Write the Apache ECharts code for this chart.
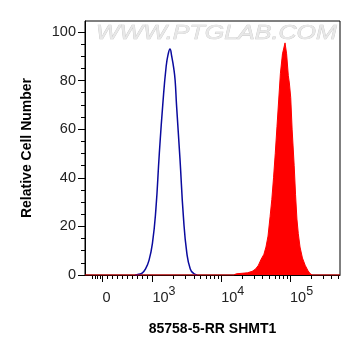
<!DOCTYPE html>
<html><head><meta charset="utf-8">
<script src="https://cdn.jsdelivr.net/npm/echarts@6/dist/echarts.min.js"></script>
<style>html,body{margin:0;padding:0;background:#fff}#c{width:361px;height:356px}</style>
</head><body><div id="c"></div>
<script>
// Curve values: x in decade display units (3 = 10^3, 4 = 10^4 ...), y = relative cell number
const blueX = [2.75, 2.80, 2.85, 2.90, 2.95, 3.00, 3.05, 3.10, 3.15, 3.20, 3.23, 3.255, 3.28, 3.31, 3.33, 3.35, 3.40, 3.45, 3.50, 3.55, 3.60, 3.65];
const blueY = [0, 0.3, 0.8, 2.5, 6, 13, 27, 50, 70, 86, 91, 93, 90, 85, 80, 70, 48, 24, 9, 2.5, 0.6, 0];
const redX = [2.02, 4.18, 4.22, 4.30, 4.38, 4.45, 4.50, 4.54, 4.58, 4.62, 4.65, 4.68, 4.71, 4.735, 4.76, 4.785, 4.81, 4.835, 4.86, 4.89, 4.927, 4.95, 4.975, 4.99, 5.01, 5.03, 5.06, 5.08, 5.10, 5.12, 5.145, 5.18, 5.22, 5.26, 5.29, 5.32, 5.726];
const redY = [0, 0, 0.5, 0.7, 0.9, 1.5, 2.5, 4, 6.5, 8.5, 11.5, 16, 24, 31, 40, 50, 61, 72, 83, 91, 95.5, 91, 82, 79, 73, 60, 45, 33, 23, 17, 11.5, 7, 4, 1.8, 0.6, 0, 0];

// Axis ticks (raw intensity values for x)
const xMajorTicks = [0, 1000, 10000, 100000];
const xTickBase = ['0', '10', '10', '10'];
const xTickExp = ['', '3', '4', '5'];
const xMinorTicks = [-200, -150, -100, -50, 100, 200, 300, 400, 500, 600, 700, 800, 900,
  2000, 3000, 4000, 5000, 6000, 7000, 8000, 9000,
  20000, 30000, 40000, 50000, 60000, 70000, 80000, 90000,
  200000, 300000, 400000, 500000];
const yMajorTicks = [0, 20, 40, 60, 80, 100];
const yMinorTicks = [5, 10, 15, 25, 30, 35, 45, 50, 55, 65, 70, 75, 85, 90, 95];

const xTitle = '85758-5-RR SHMT1';
const yTitle = 'Relative Cell Number';
const watermark = 'WWW.PTGLAB.COM';

const ZERO_POS = 2.275;
function toAxis(v) { return v >= 1000 ? Math.log10(v) : 3 - (1000 - v) * (3 - ZERO_POS) / 1000; }

const X_MIN = 2.02, X_MAX = 5.726, Y_MIN = 0, Y_MAX = 104.5;
const font = '"Liberation Sans", Arial, sans-serif';

const chart = echarts.init(document.getElementById('c'), null, {renderer: 'canvas'});
chart.setOption({
  animation: false,
  backgroundColor: '#fff',
  grid: {left: 85, right: 21, top: 21, bottom: 81, show: true, borderColor: '#000', borderWidth: 1, containLabel: false},
  xAxis: [{
    type: 'value', min: X_MIN, max: X_MAX, gridIndex: 0, position: 'bottom',
    name: xTitle, nameLocation: 'middle', nameGap: 47,
    nameTextStyle: {fontFamily: font, fontWeight: 'bold', fontSize: 14, color: '#000'},
    axisLine: {show: true, onZero: false, lineStyle: {color: '#000', width: 1}},
    axisTick: {show: true, length: 7, lineStyle: {color: '#000'}, customValues: xMajorTicks.map(toAxis)},
    axisLabel: {
      show: true, margin: 10, align: 'left', customValues: xMajorTicks.map(toAxis),
      formatter: function (val) {
        for (let i = 0; i < xMajorTicks.length; i++) {
          if (Math.abs(toAxis(xMajorTicks[i]) - val) < 1e-6) {
            return xTickExp[i] ? '{b|' + xTickBase[i] + '}{e|' + xTickExp[i] + '}' : '{b|' + xTickBase[i] + '}';
          }
        }
        return '';
      },
      rich: {
        b: {fontFamily: font, fontSize: 14.5, color: '#222', lineHeight: 26, verticalAlign: 'middle'},
        e: {fontFamily: font, fontSize: 12.5, color: '#222', lineHeight: 12, verticalAlign: 'top'}
      }
    },
    splitLine: {show: false}
  }, {
    type: 'value', min: X_MIN, max: X_MAX, gridIndex: 0, position: 'bottom',
    axisLine: {show: false},
    axisTick: {show: true, length: 4, lineStyle: {color: '#000'}, customValues: xMinorTicks.map(toAxis)},
    axisLabel: {show: false},
    splitLine: {show: false}
  }],
  yAxis: [{
    type: 'value', min: Y_MIN, max: Y_MAX, gridIndex: 0, position: 'left',
    name: yTitle, nameLocation: 'middle', nameGap: 51,
    nameTextStyle: {fontFamily: font, fontWeight: 'bold', fontSize: 14, color: '#000'},
    axisLine: {show: true, onZero: false, lineStyle: {color: '#000', width: 1}},
    axisTick: {show: true, length: 7, lineStyle: {color: '#000'}, customValues: yMajorTicks},
    axisLabel: {show: true, margin: 9, customValues: yMajorTicks, fontFamily: font, fontSize: 14.5, color: '#222'},
    splitLine: {show: false}
  }, {
    type: 'value', min: Y_MIN, max: Y_MAX, gridIndex: 0, position: 'left',
    axisLine: {show: false},
    axisTick: {show: true, length: 4, lineStyle: {color: '#000'}, customValues: yMinorTicks},
    axisLabel: {show: false},
    splitLine: {show: false}
  }],
  graphic: [{
    type: 'text', x: 96, y: 23, scaleX: 1.25, z: 0, silent: true,
    style: {text: watermark, font: 'italic 20px ' + font, fill: '#e8e8e8', stroke: '#c6c6c6', lineWidth: 0.6}
  }],
  series: [{
    type: 'line', xAxisIndex: 0, yAxisIndex: 0, symbol: 'none', smooth: false, z: 3,
    data: redX.map((x, i) => [x, redY[i]]),
    lineStyle: {color: '#ff0000', width: 1},
    areaStyle: {color: '#ff0000', opacity: 1}
  }, {
    type: 'line', xAxisIndex: 0, yAxisIndex: 0, symbol: 'none', smooth: true, z: 2,
    data: blueX.map((x, i) => [x, blueY[i]]),
    lineStyle: {color: '#0a0a9e', width: 1.5}
  }]
});
</script>
</body></html>
